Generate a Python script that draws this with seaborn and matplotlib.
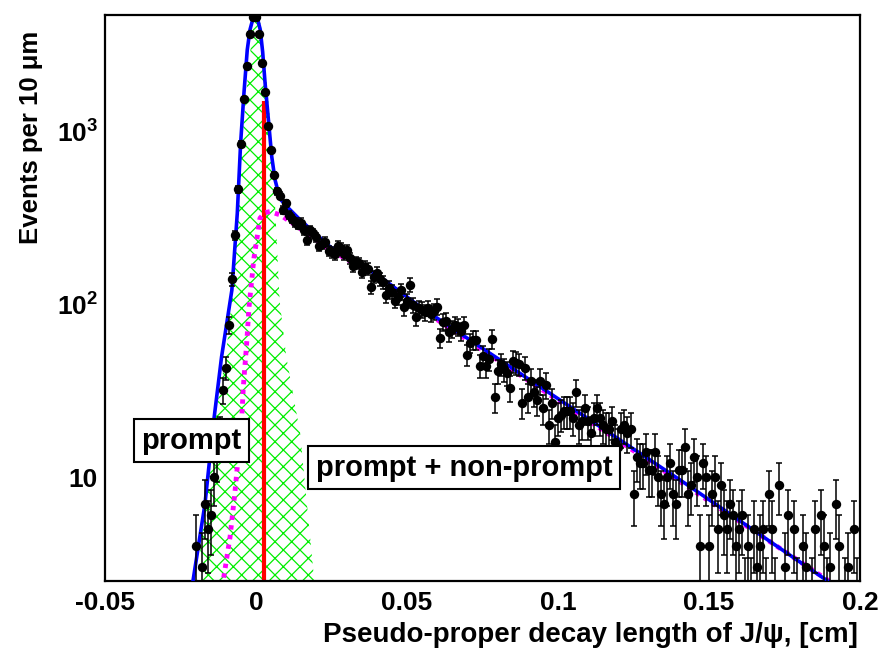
import numpy as np
import pandas as pd
import matplotlib
matplotlib.use('Agg')
import matplotlib.pyplot as plt
import seaborn as sns
from matplotlib.ticker import (FixedLocator, FixedFormatter, MultipleLocator,
                               LogLocator, NullFormatter, FuncFormatter)

# %% Data (bins of 10 um = 0.001 cm)
bin_first = -0.050
bin_width = 0.001
counts = [0] * 30 + [
    # -0.020 .. -0.001
    4, 1, 3, 7, 5, 6, 10, 13, 18, 32, 43, 76, 140, 252, 465, 851, 1550, 2415, 3700, 4600,
    # 0.000 .. 0.009
    4620, 3700, 2520, 1690, 1083, 780, 563, 451, 427, 353,
    # 0.010 .. 0.199
    385, 330, 312, 300, 290, 298, 270, 236, 270, 258,
    245, 219, 225, 231, 205, 200, 195, 219, 212, 195,
    207, 185, 166, 175, 173, 155, 165, 160, 126, 145,
    153, 140, 135, 113, 125, 118, 105, 110, 121, 96,
    105, 130, 99, 84, 95, 93, 90, 95, 88, 91,
    97, 64, 79, 80, 69, 72, 76, 74, 70, 76,
    51, 60, 62, 62, 44, 50, 44, 48, 63, 29,
    41, 45, 42, 40, 33, 47, 46, 45, 27, 43,
    29, 36, 31, 28, 36, 25, 34, 20, 27, 16,
    22, 23, 24, 24, 24, 22, 31, 20, 21, 25,
    21, 18, 22, 25, 22, 20, 19, 19, 21, 16,
    15, 19, 20, 18, 19, 8, 13, 12, 12, 14,
    11, 11, 14, 10, 8, 7, 10, 12, 8, 7,
    11, 11, 15, 8, 9, 13, 10, 4, 12, 10,
    4, 8, 10, 5, 9, 6, 5, 7, 6, 4,
    5, 6, 2, 4, 2, 5, 3, 4, 5, 2,
    8, 5, 2, 9, 1, 3, 6, 1, 5, 2,
    1, 4, 3, 1, 2, 5, 1, 6, 4, 2,
    3, 1, 7, 4, 1, 2, 3, 1, 5, 2,
]

# total fit (blue)
fit_x = [-0.0212, -0.0169, -0.0141, -0.0114, -0.0080, -0.0062, -0.0051, -0.0040,
         -0.0029, -0.0020, -0.0012, -0.0003, 0.0006, 0.0014, 0.0022, 0.0030,
         0.0041, 0.0052, 0.0063, 0.0079, 0.0102, 0.0146, 0.0245, 0.0410,
         0.0543, 0.1007, 0.1437, 0.1900]
fit_y = [2.3, 7.0, 20.5, 49.8, 121, 338, 859, 1675,
         2986, 3900, 4400, 4600, 4450, 3900, 2900, 1913,
         1175, 719, 527, 410, 369, 309, 216, 145,
         97, 27.9, 8.8, 2.45]

# non-prompt component (magenta dotted)
nonprompt_x = [-0.0112, -0.0086, -0.0070, -0.0059, -0.0047, -0.0042, -0.0031, -0.0023,
               -0.0018, -0.0007, 0.0004, 0.0013, 0.0030, 0.0046, 0.0080, 0.0113,
               0.0140, 0.0245, 0.0410, 0.0543, 0.1007, 0.1437, 0.1920]
nonprompt_y = [2.3, 4.5, 8.1, 13.1, 22.4, 33.4, 59.6, 97,
               119, 185, 247, 316, 340, 345, 330, 302,
               280, 208, 141, 95, 27.3, 8.6, 2.35]

# prompt component (green hatched)
prompt_x = [-0.0195, -0.0145, -0.0100, -0.0080, -0.0057, -0.0040, -0.0024, -0.0010,
            0.0003, 0.0016, 0.0030, 0.0046, 0.0060, 0.0078, 0.0100, 0.0146, 0.0193]
prompt_y = [2.5, 18, 50, 106, 480, 1200, 2400, 4200,
            4600, 4200, 2400, 1200, 480, 106, 50, 18, 2.5]

cut_x = 0.0027
cut_top = 1500

# %% Style
sns.set_theme(style='white', rc={'text.color': 'black', 'axes.labelcolor': 'black',
                                 'xtick.color': 'black', 'ytick.color': 'black',
                                 'axes.edgecolor': 'black'})
plt.rcParams['font.family'] = ['Liberation Sans', 'DejaVu Sans']
plt.rcParams['font.weight'] = 'bold'
plt.rcParams['mathtext.fontset'] = 'custom'
plt.rcParams['mathtext.bf'] = 'Liberation Sans:bold'
plt.rcParams['mathtext.rm'] = 'Liberation Sans:bold'
plt.rcParams['hatch.linewidth'] = 0.9

fig = plt.figure(figsize=(8.84, 6.57), dpi=100)
ax = fig.add_axes([0.1188, 0.1157, 0.8541, 0.8615])

centres = bin_first + bin_width * np.arange(len(counts))
df = pd.DataFrame({'x': centres, 'n': counts})
df = df[df['n'] > 0]

ax.fill_between(prompt_x, 1, prompt_y, facecolor='none', edgecolor='#00ee00',
                hatch='xx', linewidth=0, zorder=1)
ax.vlines(cut_x, 1, cut_top, color='#ff0000', linewidth=3, zorder=2)
sns.lineplot(x=nonprompt_x, y=nonprompt_y, ax=ax, color='#ff00ff', linewidth=3.5,
             linestyle=(0, (0.9, 1.1)), sort=False, estimator=None, zorder=3)
sns.lineplot(x=fit_x, y=fit_y, ax=ax, color='#0000ff', linewidth=2.6,
             sort=False, estimator=None, zorder=4)
ax.errorbar(df['x'], df['n'], yerr=np.sqrt(df['n']), fmt='none', ecolor='black',
            elinewidth=1.1, capsize=2.5, capthick=1.1, zorder=5)
sns.scatterplot(data=df, x='x', y='n', ax=ax, color='black', s=46,
                linewidth=0, zorder=6)

ax.set_yscale('log')
ax.set_xlim(-0.05, 0.2)
ax.set_ylim(2.5, 4750)
ax.set_xlabel('')
ax.set_ylabel('')

ax.xaxis.set_major_locator(MultipleLocator(0.05))
ax.xaxis.set_minor_locator(MultipleLocator(0.01))
ax.xaxis.set_major_formatter(FuncFormatter(lambda v, p: '%g' % round(v, 3)))
ax.yaxis.set_major_locator(FixedLocator([10, 100, 1000]))
ax.yaxis.set_major_formatter(FixedFormatter(['10', r'$\mathbf{10^{2}}$', r'$\mathbf{10^{3}}$']))
ax.yaxis.set_minor_locator(LogLocator(base=10, subs=np.arange(2, 10)))
ax.yaxis.set_minor_formatter(NullFormatter())

ax.tick_params(axis='both', which='both', direction='in', top=False, right=False,
               colors='black', labelcolor='black', labelsize=19, width=1.1)
ax.tick_params(axis='x', which='major', length=11, pad=7)
ax.tick_params(axis='x', which='minor', length=5)
ax.tick_params(axis='y', which='major', length=16.5, pad=5)
ax.tick_params(axis='y', which='minor', length=8.5)
for s in ax.spines.values():
    s.set_linewidth(1.6)
    s.set_color('black')

box = dict(boxstyle='square,pad=0.25', fc='white', ec='black', lw=1.5)
ax.text(0.1146, 0.248, 'prompt', transform=ax.transAxes, ha='center', va='center',
        fontsize=21, fontweight='bold', color='black', bbox=box, zorder=10)
ax.text(0.4755, 0.2005, 'prompt + non-prompt', transform=ax.transAxes, ha='center',
        va='center', fontsize=21, fontweight='bold', color='black', bbox=box, zorder=10)

ax.text(-0.098, 0.973, 'Events per 10 μm', transform=ax.transAxes, rotation=90,
        ha='center', va='top', fontsize=18.5, fontweight='bold', color='black')
ax.text(0.997, -0.095, 'Pseudo-proper decay length of J/ψ, [cm]', transform=ax.transAxes,
        ha='right', va='center', fontsize=20, fontweight='bold', color='black')

fig.savefig('out.png', dpi=100)
